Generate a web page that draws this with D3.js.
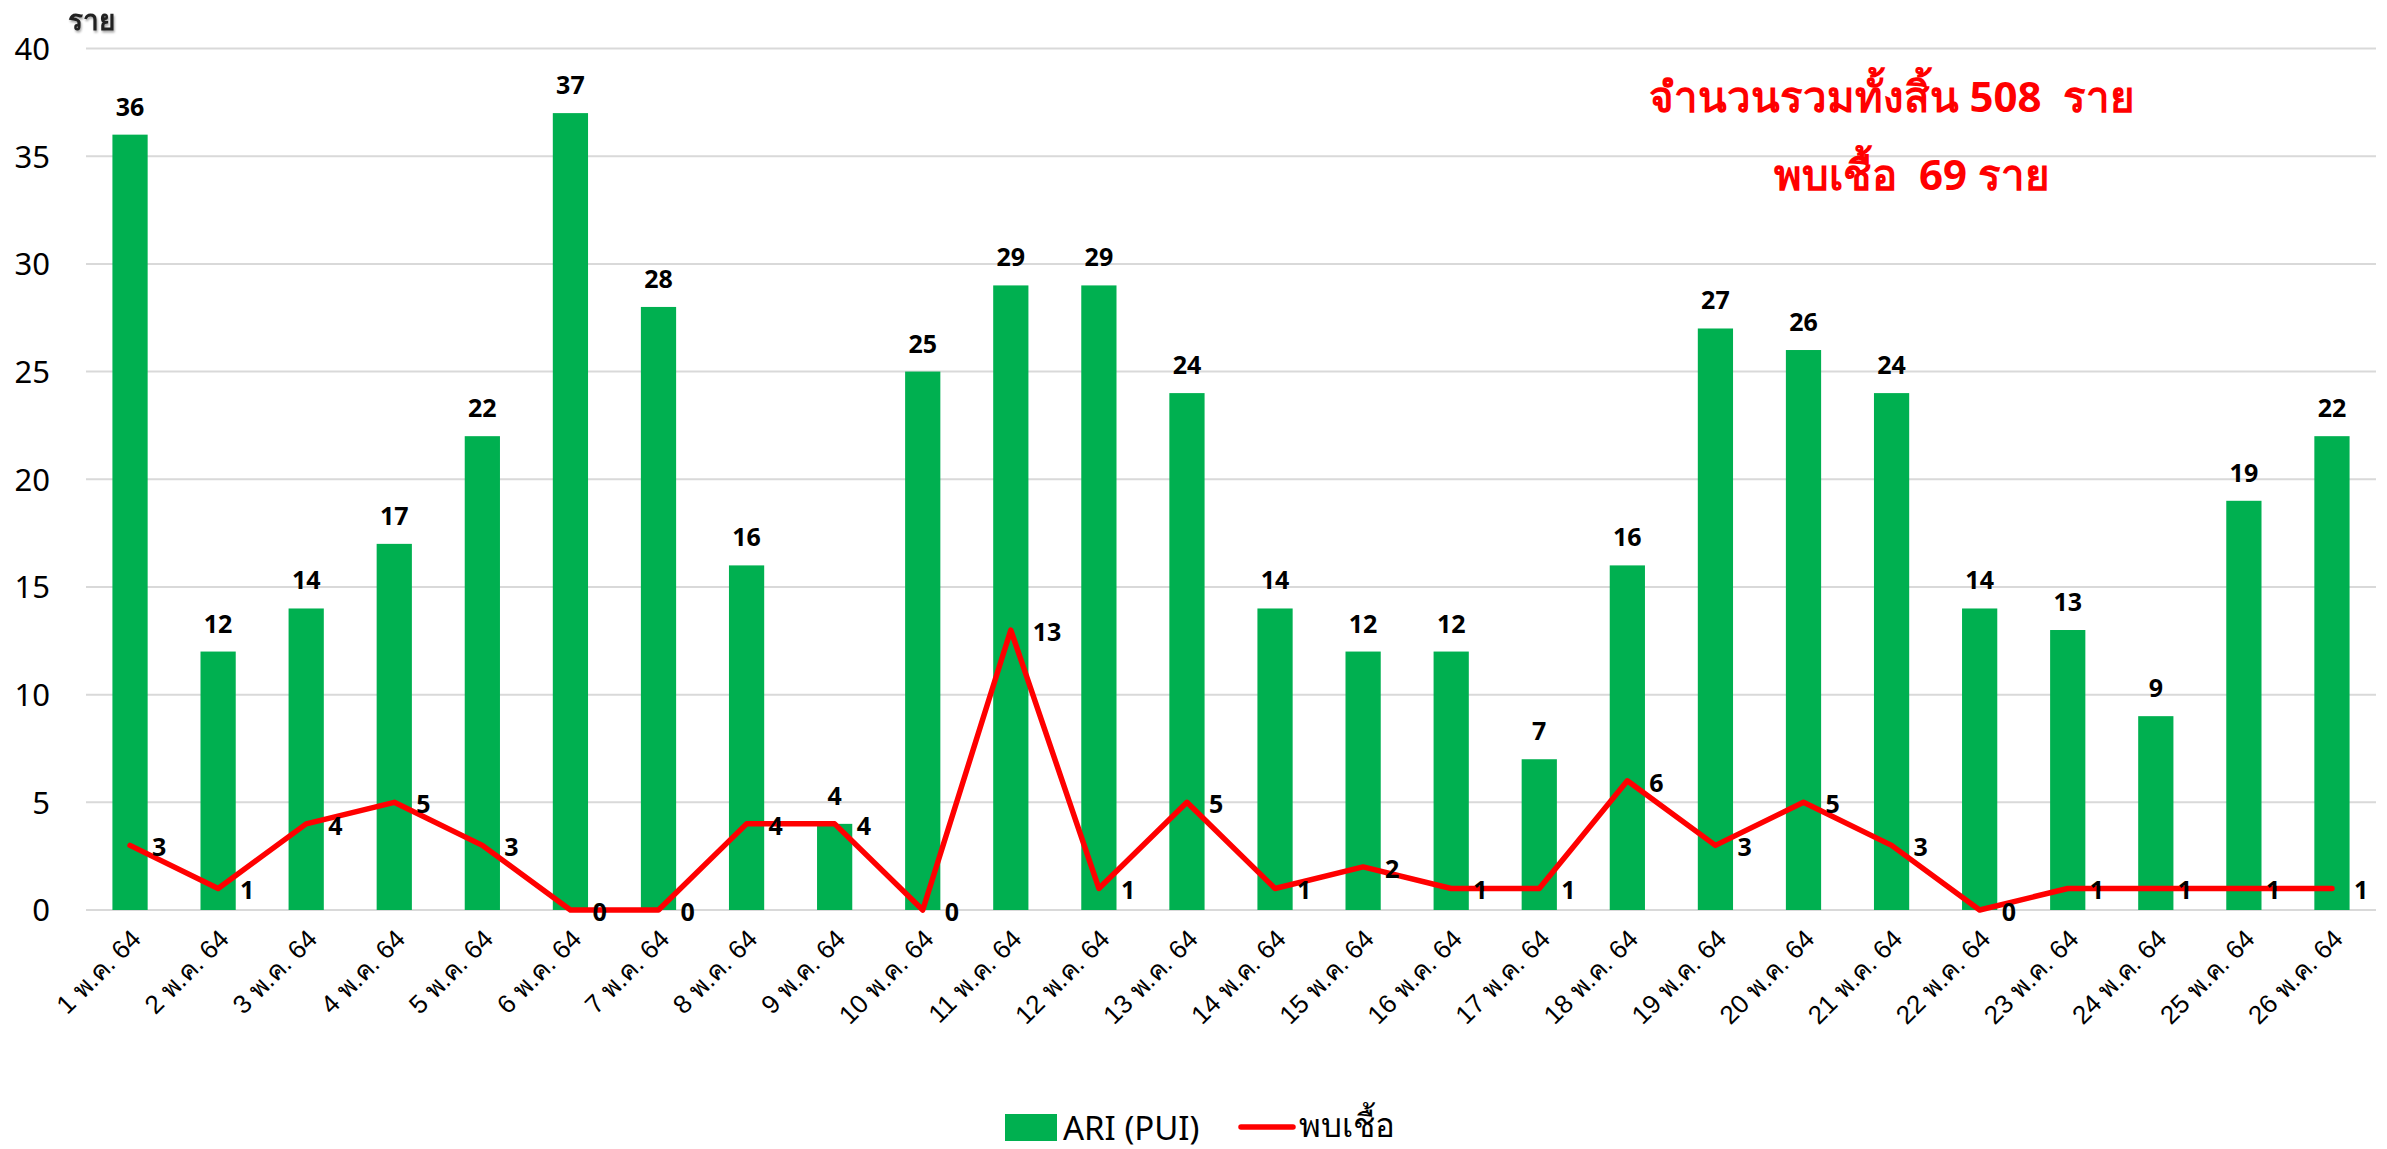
<!DOCTYPE html>
<html><head><meta charset="utf-8">
<script src="https://cdn.jsdelivr.net/npm/d3@7"></script>
<style>
html,body{margin:0;padding:0;background:#fff;}
svg{display:block;font-family:"Noto Sans","Open Sans",sans-serif;}
</style></head>
<body>
<svg id="chart" width="2387" height="1149"></svg>
<script>
const categories = ["1 พ.ค. 64","2 พ.ค. 64","3 พ.ค. 64","4 พ.ค. 64","5 พ.ค. 64","6 พ.ค. 64","7 พ.ค. 64","8 พ.ค. 64","9 พ.ค. 64","10 พ.ค. 64","11 พ.ค. 64","12 พ.ค. 64","13 พ.ค. 64","14 พ.ค. 64","15 พ.ค. 64","16 พ.ค. 64","17 พ.ค. 64","18 พ.ค. 64","19 พ.ค. 64","20 พ.ค. 64","21 พ.ค. 64","22 พ.ค. 64","23 พ.ค. 64","24 พ.ค. 64","25 พ.ค. 64","26 พ.ค. 64"];
const ariValues = [36,12,14,17,22,37,28,16,4,25,29,29,24,14,12,12,7,16,27,26,24,14,13,9,19,22];
const positiveValues = [3,1,4,5,3,0,0,4,4,0,13,1,5,1,2,1,1,6,3,5,3,0,1,1,1,1];
const yTicks = [0,5,10,15,20,25,30,35,40];
const seriesNames = ["ARI (PUI)","พบเชื้อ"];
const yUnit = "ราย";
const annotationLines = ["จำนวนรวมทั้งสิ้น 508  ราย","พบเชื้อ  69 ราย"];

const svg = d3.select("#chart");
const pLeft = 86, pRight = 2376, pTop = 48.5, pBottom = 910;
const GREEN = "#00B050", RED = "#FF0000";

const x = d3.scaleBand().domain(categories).range([pLeft, pRight]).paddingInner(0.6).paddingOuter(0.3);
const y = d3.scaleLinear().domain([0, 40]).range([pBottom, pTop]);

// gridlines
svg.append("g").selectAll("line").data(yTicks).join("line")
  .attr("x1", pLeft).attr("x2", pRight)
  .attr("y1", d => y(d)).attr("y2", d => y(d))
  .attr("stroke", "#D9D9D9").attr("stroke-width", 2);

// y axis labels
const yAxis = d3.axisLeft(y).tickValues(yTicks).tickSize(0).tickPadding(0);
const yg = svg.append("g").attr("transform", `translate(50,0)`).call(yAxis);
yg.select(".domain").remove();
yg.selectAll("text").attr("font-size", 31).attr("fill", "#000").attr("dy", "0.35em")
  .attr("font-family", '"Noto Sans", sans-serif');

// y unit label
svg.append("text").attr("x", 68).attr("y", 30).attr("font-size", 28).attr("font-weight", "bold")
  .attr("fill", "#222").style("filter", "drop-shadow(1px 2px 1px rgba(0,0,0,0.35))").text(yUnit);

// bars
svg.append("g").selectAll("rect").data(ariValues).join("rect")
  .attr("x", (d, i) => x(categories[i]))
  .attr("width", x.bandwidth())
  .attr("y", d => y(d))
  .attr("height", d => pBottom - y(d))
  .attr("fill", GREEN);

// bar labels
svg.append("g").selectAll("text").data(ariValues).join("text")
  .attr("x", (d, i) => x(categories[i]) + x.bandwidth() / 2)
  .attr("y", d => y(d) - 19)
  .attr("text-anchor", "middle").attr("font-size", 25).attr("font-weight", "bold").attr("fill", "#000")
  .text(d => d);

// x axis labels
const xAxis = d3.axisBottom(x).tickSize(0).tickPadding(0);
const xg = svg.append("g").attr("transform", `translate(0,${pBottom})`).call(xAxis);
xg.select(".domain").remove();
xg.selectAll("text")
  .attr("font-size", 26).attr("fill", "#000")
  .attr("text-anchor", "end")
  .attr("dy", "0.35em").attr("y", 0)
  .attr("transform", "translate(6,24) rotate(-45)");

// line
const cx = i => x(categories[i]) + x.bandwidth() / 2;
const line = d3.line().x((d, i) => cx(i)).y(d => y(d));
svg.append("path").datum(positiveValues).attr("d", line)
  .attr("fill", "none").attr("stroke", RED).attr("stroke-width", 5.5)
  .attr("stroke-linejoin", "round").attr("stroke-linecap", "round");

// line labels
svg.append("g").selectAll("text").data(positiveValues).join("text")
  .attr("x", (d, i) => cx(i) + 22)
  .attr("y", d => y(d) + 11)
  .attr("font-size", 25).attr("font-weight", "bold").attr("fill", "#000")
  .text(d => d);

// annotation
svg.append("g").selectAll("text").data(annotationLines).join("text")
  .attr("x", (d, i) => i === 0 ? 1892 : 1912)
  .attr("y", (d, i) => i === 0 ? 112 : 190)
  .attr("text-anchor", "middle").attr("font-size", 42).attr("font-weight", "bold")
  .attr("fill", RED).style("white-space", "pre").attr("xml:space", "preserve")
  .text(d => d);

// legend
const lg = svg.append("g");
lg.append("rect").attr("x", 1005).attr("y", 1114).attr("width", 52).attr("height", 27).attr("fill", GREEN);
lg.append("text").attr("x", 1063).attr("y", 1140).attr("font-size", 33).attr("fill", "#000").text(seriesNames[0]);
lg.append("line").attr("x1", 1241).attr("x2", 1293).attr("y1", 1127).attr("y2", 1127)
  .attr("stroke", RED).attr("stroke-width", 5.5).attr("stroke-linecap", "round");
lg.append("text").attr("x", 1299).attr("y", 1137).attr("font-size", 33).attr("fill", "#000").text(seriesNames[1]);
</script>
</body></html>
